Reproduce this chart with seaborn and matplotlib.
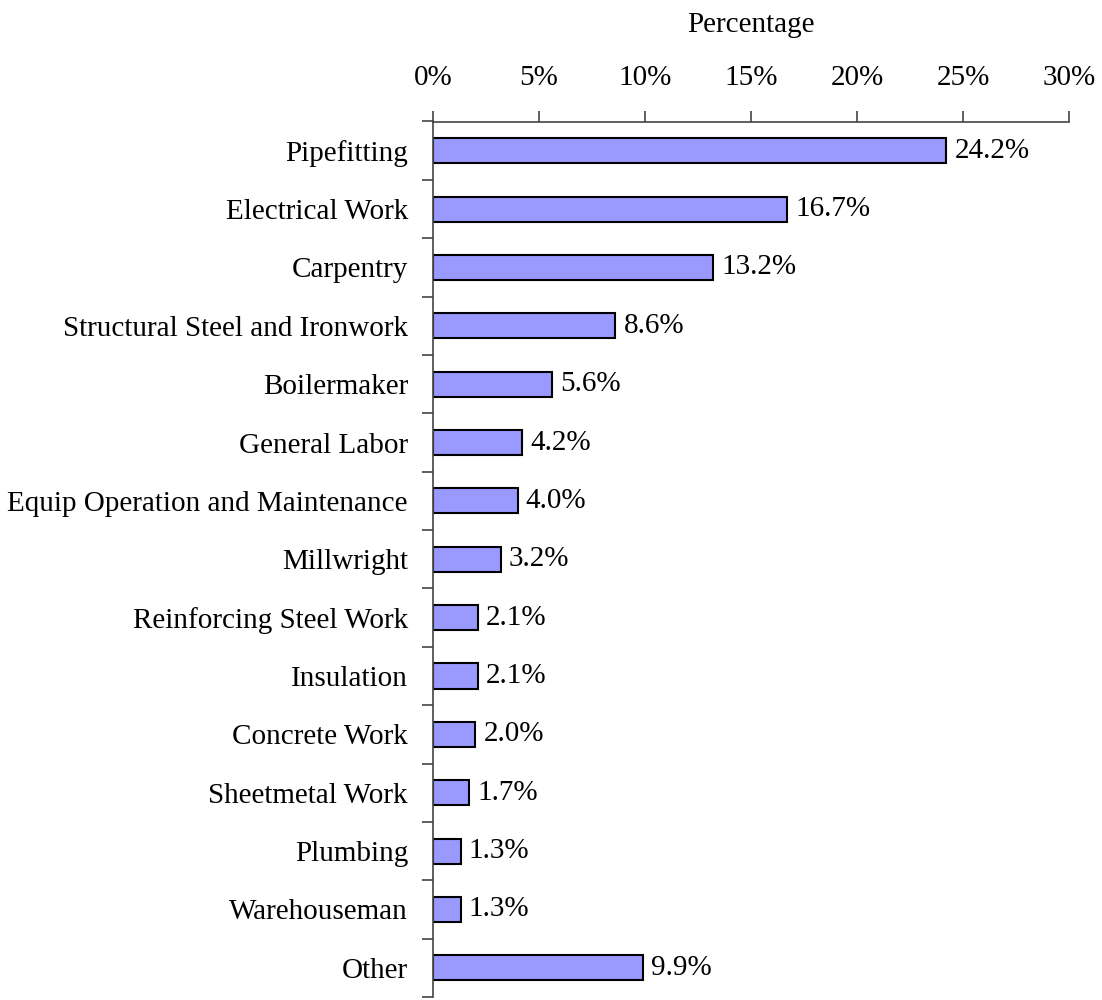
import matplotlib
matplotlib.use("Agg")
import matplotlib.pyplot as plt
import seaborn as sns
import pandas as pd
from matplotlib.ticker import FuncFormatter, FixedLocator

trades = [
    "Pipefitting", "Electrical Work", "Carpentry", "Structural Steel and Ironwork",
    "Boilermaker", "General Labor", "Equip Operation and Maintenance", "Millwright",
    "Reinforcing Steel Work", "Insulation", "Concrete Work", "Sheetmetal Work",
    "Plumbing", "Warehouseman", "Other",
]
percentages = [24.2, 16.7, 13.2, 8.6, 5.6, 4.2, 4.0, 3.2, 2.1, 2.1, 2.0, 1.7, 1.3, 1.3, 9.9]
x_ticks = [0, 5, 10, 15, 20, 25, 30]

df = pd.DataFrame({"trade": trades, "pct": percentages})

sns.set_style("white")
plt.rcParams["font.family"] = ["Liberation Serif", "DejaVu Serif"]
plt.rcParams["text.color"] = "black"
plt.rcParams["axes.labelcolor"] = "black"
plt.rcParams["xtick.color"] = "black"
plt.rcParams["ytick.color"] = "black"
FS = 21

fig = plt.figure(figsize=(11.02, 10), dpi=100)
ax = fig.add_axes([0.3929, 0.003, 0.5774, 0.8755])

sns.barplot(data=df, x="pct", y="trade", orient="h", color="#9999FF",
            saturation=1, width=0.43, edgecolor="black", linewidth=1.5, ax=ax)

for i, v in enumerate(percentages):
    ax.text(v + 0.38, i, f"{v:.1f}%", va="center", ha="left", fontsize=FS, color="black")

ax.set_xlim(0, 30)
ax.set_ylim(len(trades) - 0.5, -0.5)
ax.xaxis.set_ticks_position("top")
ax.xaxis.set_label_position("top")
ax.set_xticks(x_ticks)
ax.xaxis.set_major_formatter(FuncFormatter(lambda v, p: f"{v:.0f}%"))
ax.set_xlabel("Percentage", fontsize=FS, labelpad=24, color="black")
ax.set_ylabel("")
ax.tick_params(axis="x", which="major", direction="out", length=8, width=1.2,
               color="#444444", labelcolor="black", labelsize=FS, pad=14)

ax.yaxis.set_minor_locator(FixedLocator([i - 0.5 for i in range(len(trades) + 1)]))
ax.tick_params(axis="y", which="major", length=0, labelsize=FS, labelcolor="black", pad=18)
ax.tick_params(axis="y", which="minor", left=True, direction="out", length=8,
               width=1.2, color="#444444")

for side in ["right", "bottom"]:
    ax.spines[side].set_visible(False)
for side in ["top", "left"]:
    ax.spines[side].set_color("#444444")
    ax.spines[side].set_linewidth(1.2)

fig.savefig("out.png", dpi=100, facecolor="white")
